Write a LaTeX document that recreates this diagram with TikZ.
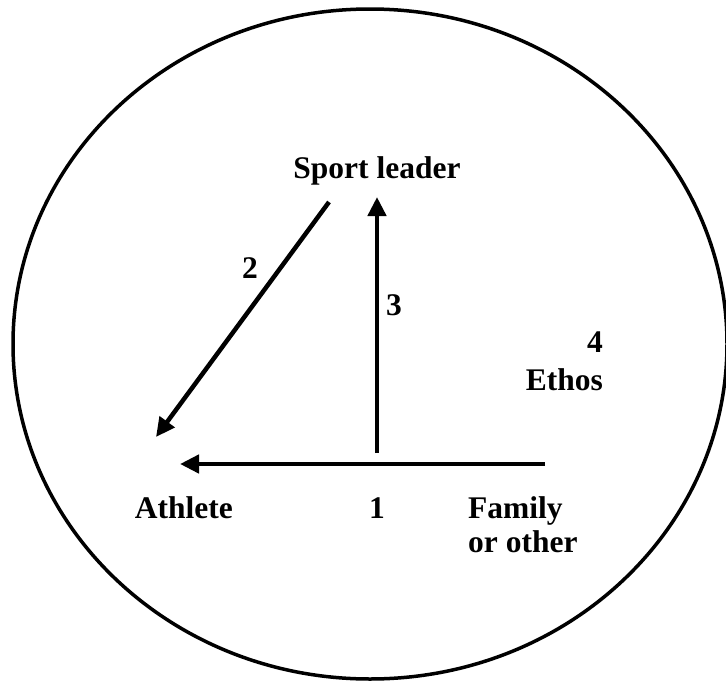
\documentclass[tikz,border=0pt]{standalone}
\usepackage{fontspec}
\setmainfont{Liberation Serif}
\usetikzlibrary{arrows.meta}

\tikzset{
  lbl/.style={font=\fontsize{31.5}{36}\selectfont\bfseries, inner sep=0pt},
  flow/.style={line width=4.5pt, -{Triangle[length=19pt,width=18pt]}}
}

\begin{document}
\begin{tikzpicture}[x=1pt,y=-1pt]
  \useasboundingbox (0,0) rectangle (726,683);
  % outer circle
  \draw[line width=3.5pt] (370,344) ellipse [x radius=357pt, y radius=335pt];
  % labels
  \node[lbl, anchor=base] (leader) at (377,178) {Sport leader};
  \node[lbl, anchor=base east] (athlete) at (233,518) {Athlete};
  \node[lbl, anchor=base west] (family) at (468,518) {Family};
  \node[lbl, anchor=base west] (other) at (468,552) {or other};
  \node[lbl, anchor=base east] (ethos) at (603,390) {Ethos};
  \node[lbl, anchor=base] (one) at (377,518) {1};
  \node[lbl, anchor=base] (two) at (250,278) {2};
  \node[lbl, anchor=base] (three) at (394,315) {3};
  \node[lbl, anchor=base east] (four) at (603,352) {4};
  % arrow ends
  \coordinate (s1) at (545,464);
  \coordinate (e1) at (180,464);
  \coordinate (s2) at (329,202);
  \coordinate (e2) at (156,437);
  \coordinate (s3) at (377,453);
  \coordinate (e3) at (377,197);
  \draw[flow] (s1) -- (e1);
  \draw[flow] (s2) -- (e2);
  \draw[flow] (s3) -- (e3);
\end{tikzpicture}
\end{document}
